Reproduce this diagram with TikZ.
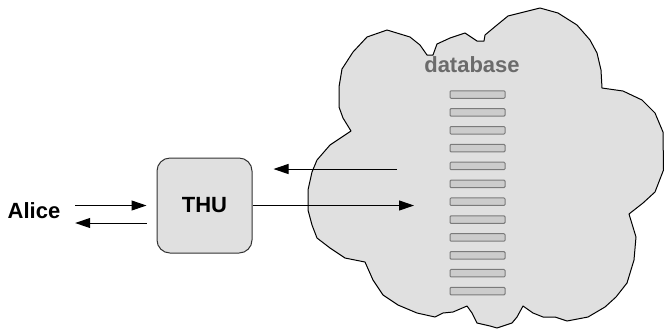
\documentclass[tikz,border=0pt]{standalone}
\usepackage{fontspec}
\setmainfont{Liberation Sans}
\usetikzlibrary{arrows.meta,positioning}

\begin{document}
\begin{tikzpicture}[
    x=0.5pt, y=-0.5pt,
    label/.style={inner sep=0pt, font=\fontsize{11}{13}\selectfont\bfseries},
    server/.style={rectangle, draw=black!80, fill=black!12, line width=0.5pt, rounded corners=6.5pt, minimum size=47.5pt},
    slot/.style={rectangle, draw=black!52, fill=black!20, line width=0.5pt, rounded corners=0.5pt, minimum width=27.5pt, minimum height=3.75pt, inner sep=0pt},
    arrow/.style={line width=0.5pt, -{Triangle[length=7.5pt,width=5pt]}}
]
\useasboundingbox (0,0) rectangle (664,329);

% Cloud
\draw[fill=black!12, line width=0.5pt, line join=round]
  (317,160) -- (330,145) -- (351,131) -- (343,118) -- (339,107) -- (339,87)
  -- (342,69) -- (353,52) -- (367,37) -- (387,30) -- (410,37) -- (420,45)
  -- (427,55) -- (433,55) -- (437,44) -- (450,38) -- (465,33) -- (477,41)
  -- (484,41) -- (485,35) -- (497,25) -- (508,16) -- (540,8) -- (558,13)
  -- (577,25) -- (590,40) -- (597,53) -- (601,70) -- (602,88) -- (623,91)
  -- (642,100) -- (655,113) -- (663,132) -- (663.5,170) -- (655,192) -- (643,203)
  -- (629,214) -- (636,237) -- (634,260) -- (627,283) -- (616,297) -- (605,307)
  -- (588,317) -- (567,321) -- (555,317) -- (543,317) -- (533,313) -- (523,306)
  -- (517,317) -- (512,323) -- (497,328) -- (490,326) -- (477,323) -- (472,313)
  -- (467,306) -- (453,312) -- (443,313) -- (435,317) -- (417,313) -- (398,305)
  -- (383,295) -- (373,280) -- (365,262) -- (345,258) -- (330,248) -- (317,238)
  -- (312,225) -- (308,210) -- (308,190) -- (312,172) -- cycle;

\node[label, text=black!58] (database) at (472,64.5) {database};

% Rows of the table
\foreach \i in {0,...,11}
  \node[slot] (slot\i) at (477.5,94.5+17.87*\i) {};

% Nodes
\node[label] (alice) at (34,210.5) {Alice};
\node[server, label, draw=black!80, fill=black!12] (thu) at (204.5,205.5) {THU};

\coordinate (dbin) at (414,205.5);
\coordinate (dbout) at (397,169);

% Arrows
\draw[arrow, shorten <=7.25pt, shorten >=5pt] (alice.east |- thu.west) -- (thu.west);
\draw[arrow, shorten <=5pt, shorten >=7.25pt] ([yshift=-8.75pt]thu.west) -- ([yshift=-8.75pt]alice.east |- thu.west);
\draw[arrow] (thu.east) -- (dbin);
\draw[arrow, shorten >=10.5pt] (dbout) -- (thu.east |- dbout);
\end{tikzpicture}
\end{document}
